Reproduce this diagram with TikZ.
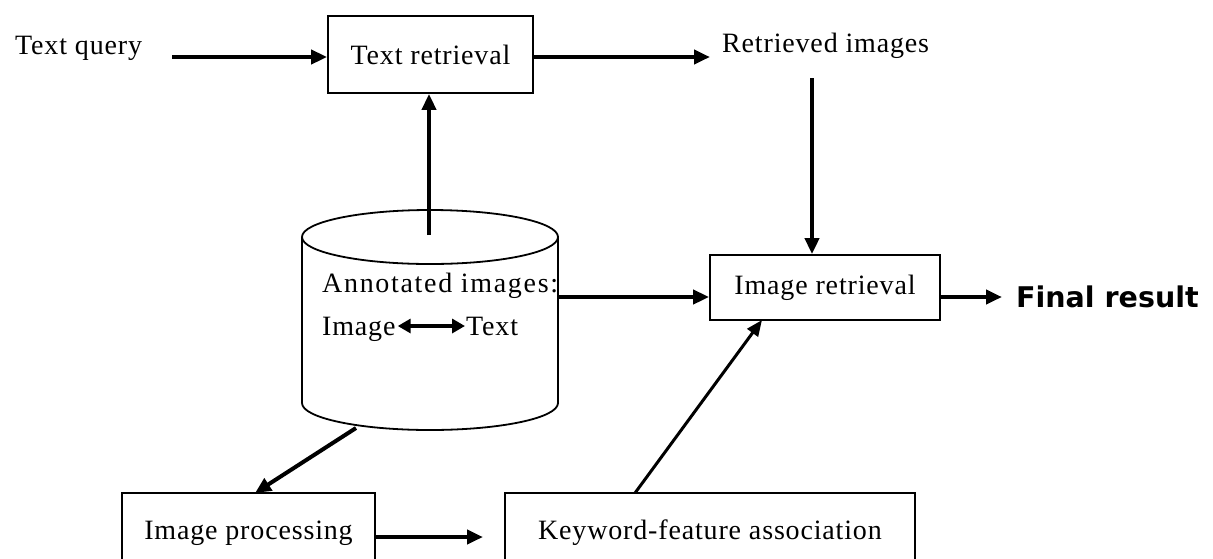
\documentclass[tikz,border=0pt]{standalone}
\usepackage{fontspec}
\setmainfont{Liberation Serif}[LetterSpace=3]
\newfontfamily\boldsans{DejaVu Sans}
\newfontfamily\wideserif{Liberation Serif}[LetterSpace=6]
\usetikzlibrary{arrows.meta,calc}
\tikzset{
  lbl/.style={font=\fontsize{28}{32}\selectfont, inner sep=0pt},
  boxnode/.style={draw, line width=1.8pt, font=\fontsize{28}{32}\selectfont, inner sep=0pt},
  conn/.style={line width=4pt, -{Triangle[length=16pt,width=14pt]}},
  thinconn/.style={line width=3pt, -{Triangle[length=16pt,width=13pt]}},
  cyl/.style={line width=1.8pt}
}
\begin{document}
\begin{tikzpicture}[x=1pt,y=-1pt]
\useasboundingbox (0,0) rectangle (1213,558);
\fill[white] (0,0) rectangle (1213,558);
% nodes
\node[lbl, anchor=west] (tq) at (15,48) {Text query};
\node[boxnode, minimum width=205pt, minimum height=77pt] (tr) at (430.5,54.5) {Text retrieval};
\node[lbl, anchor=west] (ri) at (722,46) {Retrieved images};
\node[boxnode, minimum width=230pt, minimum height=65pt] (ir) at (825,287.5) {Image retrieval};
\node[inner sep=0pt, anchor=west, font=\boldsans\bfseries\fontsize{28.5}{34}\selectfont] (fr) at (1016,297) {Final result};
\node[boxnode, minimum width=253pt, minimum height=80pt] (ip) at (248.5,533) {Image processing};
\node[boxnode, minimum width=410pt, minimum height=80pt] (kf) at (710,533) {Keyword-feature association};
% cylinder
\draw[cyl, fill=white] (302,237) -- (302,403) arc[start angle=180, end angle=360, x radius=128pt, y radius=27pt] -- (558,237);
\draw[cyl] (430,237) ellipse[x radius=128pt, y radius=27pt];
\coordinate (dbtop) at (429,235);
\coordinate (dbright) at (558,297);
\coordinate (dbbot) at (356,428);
\node[lbl, font=\wideserif\fontsize{28}{32}\selectfont, anchor=base west] (ann) at (322,292) {Annotated images:};
\node[lbl, anchor=base west] (imw) at (322,335) {Image};
\node[lbl, anchor=base west] (txw) at (466,335) {Text};
\draw[line width=3.5pt, {Triangle[length=13pt,width=14pt]}-{Triangle[length=13pt,width=14pt]}] ($(imw.base east)+(2pt,9pt)$) -- ($(txw.base west)+(-1pt,9pt)$);
% connectors
\coordinate (tqe) at (172,57);
\draw[conn] (tqe) -- (tr.west |- tqe);
\draw[conn] (tr.east |- tqe) -- (710,57) coordinate (rie);
\draw[conn] (dbtop) -- (dbtop |- tr.south);
\draw[conn] (812,78) coordinate (ris) -- (ris |- ir.north);
\draw[conn] (dbright) -- (dbright -| ir.west);
\draw[conn] (ir.east |- dbright) -- (1002,297) coordinate (fre);
\draw[conn] (dbbot) -- (255,493) coordinate (ipn);
\draw[conn] (ip.east |- 0,537) -- (483,537) coordinate (kfw);
\draw[thinconn] (635,493) coordinate (kfn) -- (762,320) coordinate (irs);
\end{tikzpicture}
\end{document}
